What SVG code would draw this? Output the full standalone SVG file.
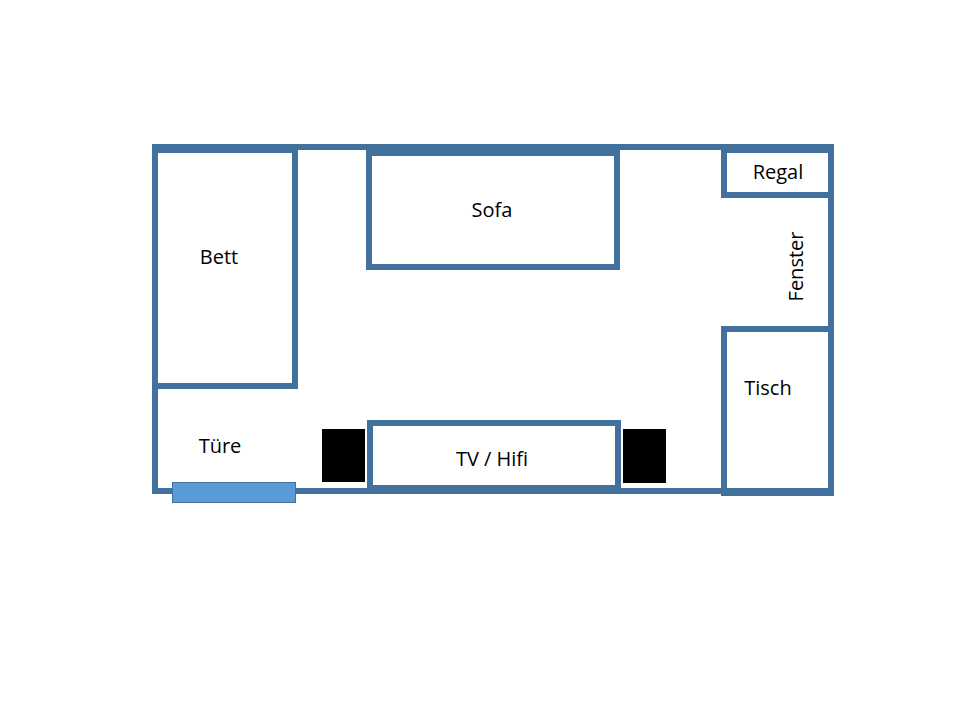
<svg xmlns="http://www.w3.org/2000/svg" width="960" height="720" viewBox="0 0 960 720">
<style>
.w{fill:none;stroke:#41719C;stroke-width:6}
.t{font-family:"Open Sans","Liberation Sans",sans-serif;font-size:20px;fill:#000;text-anchor:middle}
.spk{fill:#000}
</style>
<rect width="960" height="720" fill="#fff"/>
<g id="room"><rect class="w" x="155" y="147" width="676" height="344"/></g>
<g id="bett"><rect class="w" x="155" y="150" width="140" height="236"/><text class="t" x="219" y="264">Bett</text></g>
<g id="sofa"><rect class="w" x="369" y="153" width="248" height="114"/><text class="t" x="492" y="217">Sofa</text></g>
<g id="regal"><rect class="w" x="724" y="150" width="107" height="45"/><text class="t" x="778" y="179">Regal</text></g>
<g id="fenster"><text class="t" transform="translate(803,266.5) rotate(-90)">Fenster</text></g>
<g id="tisch"><rect class="w" x="724" y="329" width="107" height="164"/><text class="t" x="768" y="395">Tisch</text></g>
<g id="tv"><rect class="w" x="370" y="423" width="248" height="65"/><text class="t" x="492" y="466">TV / Hifi</text></g>
<g id="lautsprecher-links"><rect class="spk" x="322" y="429" width="43" height="53"/></g>
<g id="lautsprecher-rechts"><rect class="spk" x="623" y="429" width="43" height="54"/></g>
<g id="tuere"><rect x="172.5" y="482.5" width="123" height="20" fill="#5B9BD5" stroke="#41719C" stroke-width="1"/><text class="t" x="220" y="453">Türe</text></g>
</svg>
